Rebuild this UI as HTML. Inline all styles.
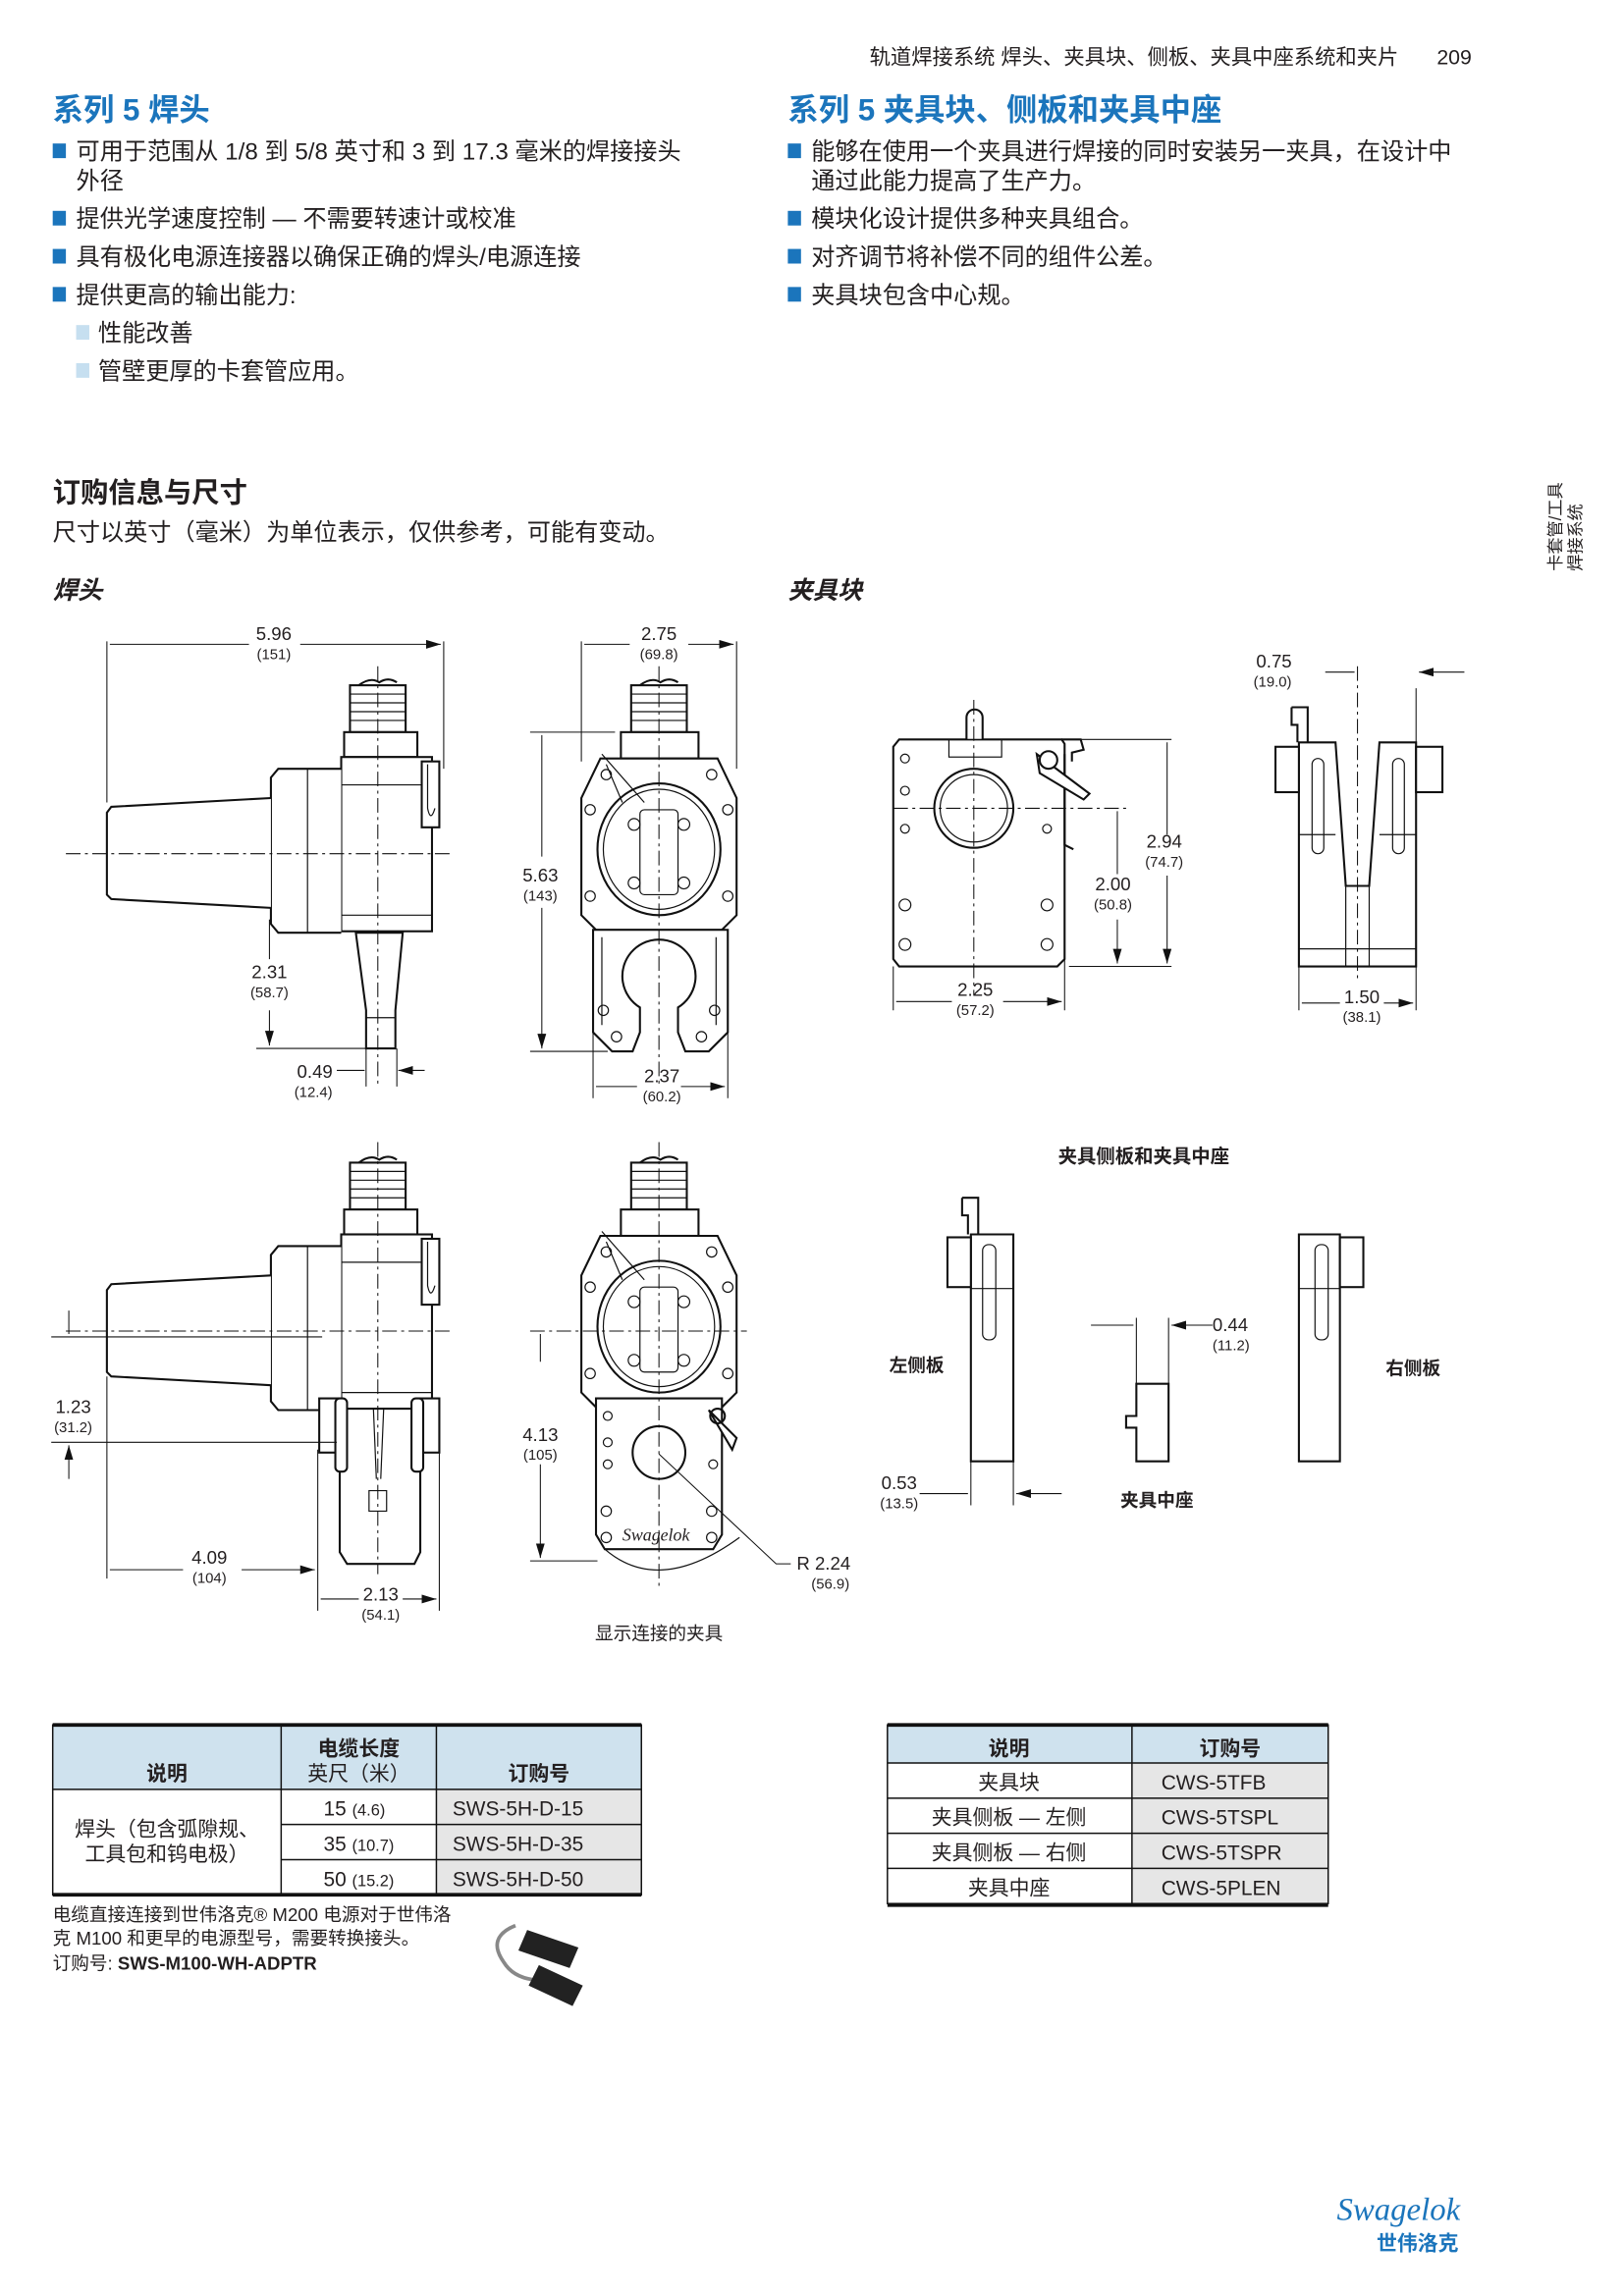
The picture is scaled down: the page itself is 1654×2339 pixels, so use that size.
<!DOCTYPE html>
<html><head><meta charset="utf-8">
<style>
html,body{margin:0;padding:0;background:#fff;}
svg{display:block;}
text{font-family:"Liberation Sans","Noto Sans CJK SC",sans-serif;fill:#231f20;}
.t{font-size:16.2px;}
.h{font-size:21px;font-weight:bold;fill:#1b75bc;}
.d{font-size:12.5px;}
.s{font-size:10px;}
.o{fill:none;stroke:#111;stroke-width:1.4;}
.f{fill:#fff;stroke:#111;stroke-width:1.4;}
.l{fill:none;stroke:#111;stroke-width:0.8;}
.c{fill:none;stroke:#111;stroke-width:0.7;stroke-dasharray:10 3 2 3;}
.dm{fill:none;stroke:#111;stroke-width:0.7;}
.ar{fill:none;stroke:#111;stroke-width:0.7;marker-end:url(#a);}
</style></head><body>
<svg width="1654" height="2339" viewBox="0 0 1109 1568" preserveAspectRatio="none" xmlns="http://www.w3.org/2000/svg">
<defs>
<marker id="a" markerWidth="10" markerHeight="6" refX="10" refY="3" orient="auto" markerUnits="userSpaceOnUse"><path d="M0,0 L10,3 L0,6 Z" fill="#111"/></marker>
<g id="hs">
 <rect x="239" y="468" width="38" height="32" class="f"/>
 <path d="M239,474H277M239,480H277M239,486H277M239,492H277" class="l"/>
 <path d="M245,468 q8,-6 14,-2 q6,-4 12,0" class="o"/>
 <rect x="235" y="500" width="50" height="17" class="f"/>
 <rect x="233" y="517" width="62" height="119" class="f"/>
 <path d="M233,536H295M233,625H295" class="l"/>
 <rect x="288" y="520" width="12" height="45" class="f"/>
 <path d="M292,522 v30 q2,10 5,0" class="l"/>
 <path d="M233,525 H190 L185,531 V631 L190,637 H233" class="f"/>
 <path d="M210,525V637" class="l"/>
 <path d="M185,545 L76,551 L73,555 V611 L76,614 L185,620" class="f"/>
 <path d="M45,583H310" class="c"/>
</g>
<g id="hf">
 <rect x="431" y="468" width="38" height="32" class="f"/>
 <path d="M431,474H469M431,480H469M431,486H469M431,492H469" class="l"/>
 <path d="M437,468 q8,-6 14,-2 q6,-4 12,0" class="o"/>
 <rect x="424" y="500" width="53" height="18" class="f"/>
 <path d="M410,518 H490 L503,545 V625 L493,635 H407 L397,625 V545 Z" class="f"/>
 <ellipse cx="450" cy="580" rx="42" ry="45" class="o"/>
 <ellipse cx="450" cy="580" rx="38" ry="41" class="l"/>
 <rect x="437" y="553" width="26" height="58" rx="3" class="l"/>
 <g class="l"><circle cx="433" cy="563" r="4"/><circle cx="467" cy="563" r="4"/><circle cx="433" cy="603" r="4"/><circle cx="467" cy="603" r="4"/>
 <circle cx="414" cy="529" r="3.5"/><circle cx="486" cy="529" r="3.5"/><circle cx="403" cy="553" r="3.5"/><circle cx="497" cy="553" r="3.5"/><circle cx="403" cy="612" r="3.5"/><circle cx="497" cy="612" r="3.5"/></g>
 <path d="M411,515 L440,548 M414,522 L425,548" class="l"/>
</g>
</defs>

<!-- header -->
<text x="955" y="44" text-anchor="end" style="font-size:14.3px">轨道焊接系统  焊头、夹具块、侧板、夹具中座系统和夹片</text>
<text x="1005" y="44" text-anchor="end" style="font-size:14.3px">209</text>
<text x="36" y="82" class="h">系列 5 焊头</text>
<text x="538" y="82" class="h">系列 5 夹具块、侧板和夹具中座</text>
<g fill="#1b75bc"><rect x="36" y="98" width="9" height="10"/><rect x="36" y="144" width="9" height="10"/><rect x="36" y="170" width="9" height="10"/><rect x="36" y="196" width="9" height="10"/>
<rect x="538" y="98" width="9" height="10"/><rect x="538" y="144" width="9" height="10"/><rect x="538" y="170" width="9" height="10"/><rect x="538" y="196" width="9" height="10"/></g>
<g fill="#c6dff0"><rect x="52" y="222" width="9" height="10"/><rect x="52" y="248" width="9" height="10"/></g>
<text x="52" y="109" class="t">可用于范围从 1/8 到 5/8 英寸和 3 到 17.3 毫米的焊接接头</text>
<text x="52" y="129" class="t">外径</text>
<text x="52" y="155" class="t">提供光学速度控制 — 不需要转速计或校准</text>
<text x="52" y="181" class="t">具有极化电源连接器以确保正确的焊头/电源连接</text>
<text x="52" y="207" class="t">提供更高的输出能力:</text>
<text x="67" y="233" class="t">性能改善</text>
<text x="67" y="259" class="t">管壁更厚的卡套管应用。</text>
<text x="554" y="109" class="t">能够在使用一个夹具进行焊接的同时安装另一夹具，在设计中</text>
<text x="554" y="129" class="t">通过此能力提高了生产力。</text>
<text x="554" y="155" class="t">模块化设计提供多种夹具组合。</text>
<text x="554" y="181" class="t">对齐调节将补偿不同的组件公差。</text>
<text x="554" y="207" class="t">夹具块包含中心规。</text>

<g transform="translate(1066,390) rotate(-90)"><text x="0" y="0" style="font-size:11.5px">卡套管/工具</text><text x="0" y="14" style="font-size:11.5px">焊接系统</text></g>

<text x="36" y="343" style="font-size:19px;font-weight:bold">订购信息与尺寸</text>
<text x="36" y="369" class="t">尺寸以英寸（毫米）为单位表示，仅供参考，可能有变动。</text>
<text x="36" y="409" style="font-size:17px;font-weight:bold;font-style:italic">焊头</text>
<text x="538" y="409" style="font-size:17px;font-weight:bold;font-style:italic">夹具块</text>

<!-- head 1 side -->
<use href="#hs"/>
<path d="M243,637 H275 L270,690 V716 H250 V690 Z" class="f"/>
<path d="M250,695H270" class="l"/>
<path d="M258,455V740" class="c"/>
<path d="M73,548V438M303,438V525" class="dm"/>
<path d="M170,440H75M205,440H301" class="ar"/>
<text x="187" y="437" text-anchor="middle" class="d">5.96</text><text x="187" y="450" text-anchor="middle" class="s">(151)</text>
<path d="M184,655V628M184,690V714" class="ar"/>
<path d="M175,716H250" class="dm"/>
<text x="184" y="668" text-anchor="middle" class="d">2.31</text><text x="184" y="681" text-anchor="middle" class="s">(58.7)</text>
<path d="M250,716V742M271,716V742" class="dm"/>
<path d="M230,731H249M290,731H272" class="ar"/>
<text x="215" y="736" text-anchor="middle" class="d">0.49</text><text x="214" y="749" text-anchor="middle" class="s">(12.4)</text>

<!-- head 1 front -->
<use href="#hf"/>
<path d="M405,635 H497 V705 L484,718 H468 L463,705 V688 A25,25 0 1,0 437,688 V705 L432,718 H418 L405,705 Z" class="f"/>
<path d="M411,640V700M489,640V700" class="l"/>
<g class="l"><circle cx="412" cy="690" r="3.5"/><circle cx="488" cy="690" r="3.5"/><circle cx="421" cy="708" r="3.5"/><circle cx="479" cy="708" r="3.5"/></g>
<path d="M450,455V740" class="c"/>
<path d="M397,520V438M503,438V525" class="dm"/>
<path d="M430,440H399M470,440H501" class="ar"/>
<text x="450" y="437" text-anchor="middle" class="d">2.75</text><text x="450" y="450" text-anchor="middle" class="s">(69.8)</text>
<path d="M362,500H420M362,718H415" class="dm"/>
<path d="M370,585V502M370,620V716" class="ar"/>
<text x="369" y="602" text-anchor="middle" class="d">5.63</text><text x="369" y="615" text-anchor="middle" class="s">(143)</text>
<path d="M405,705V750M497,705V750" class="dm"/>
<path d="M435,742H407M465,742H495" class="ar"/>
<text x="452" y="739" text-anchor="middle" class="d">2.37</text><text x="452" y="752" text-anchor="middle" class="s">(60.2)</text>

<!-- head 2 -->
<g transform="translate(0,326)"><use href="#hs"/><use href="#hf"/></g>
<path d="M232,962 H287 V1060 L283,1068 H237 L232,1060 Z" class="f"/>
<path d="M237,962 L255,962 L257,1010 M281,962 L262,962 L260,1010" class="l"/>
<path d="M252,1018H264V1032H252Z" class="l"/>
<rect x="218" y="955" width="14" height="37" class="f"/><rect x="287" y="955" width="13" height="37" class="f"/>
<rect x="229" y="955" width="8" height="50" rx="3" class="f"/><rect x="281" y="955" width="8" height="50" rx="3" class="f"/>
<path d="M258,780V1075" class="c"/>
<path d="M35,913H220M35,985H230" class="dm"/>
<path d="M47,895V911M47,1010V987" class="ar"/>
<text x="50" y="965" text-anchor="middle" class="d">1.23</text><text x="50" y="978" text-anchor="middle" class="s">(31.2)</text>
<path d="M73,940V1078M217,990V1100M300,990V1100" class="dm"/>
<path d="M125,1072H75M165,1072H215" class="ar"/>
<text x="143" y="1068" text-anchor="middle" class="d">4.09</text><text x="143" y="1081" text-anchor="middle" class="s">(104)</text>
<path d="M245,1092H219M275,1092H298" class="ar"/>
<text x="260" y="1093" text-anchor="middle" class="d">2.13</text><text x="260" y="1106" text-anchor="middle" class="s">(54.1)</text>

<path d="M407,955 H493 V1048 L487,1058 H413 L407,1048 Z" class="f"/>
<circle cx="450" cy="992" r="18" class="o"/>
<path d="M484,963 L500,990 L503,982 Z" class="f"/>
<circle cx="490" cy="967" r="5" class="o"/>
<g class="l"><circle cx="415" cy="967" r="3"/><circle cx="415" cy="985" r="3"/><circle cx="415" cy="1000" r="3"/><circle cx="487" cy="1000" r="3"/><circle cx="414" cy="1032" r="3.5"/><circle cx="486" cy="1032" r="3.5"/><circle cx="414" cy="1050" r="3.5"/><circle cx="486" cy="1050" r="3.5"/></g>
<text x="448" y="1052" text-anchor="middle" style="font-size:12px;font-style:italic;font-family:'Liberation Serif',serif">Swagelok</text>
<path d="M413,1058 Q450,1090 505,1050" class="l"/>
<path d="M450,780V1085" class="c"/>
<path d="M362,909H510" class="c"/>
<path d="M362,1066H408" class="dm"/>
<path d="M369,930V911M369,1000V1064" class="ar"/>
<text x="369" y="984" text-anchor="middle" class="d">4.13</text><text x="369" y="997" text-anchor="middle" class="s">(105)</text>
<path d="M450,993 L530,1068 H540" class="dm"/>
<text x="544" y="1072" class="d">R 2.24</text><text x="554" y="1085" class="s">(56.9)</text>
<text x="450" y="1120" text-anchor="middle" style="font-size:12.5px">显示连接的夹具</text>

<!-- fixture block front -->
<path d="M614,505 H725 L727,508 V655 L722,660 H614 L610,655 V510 Z" class="f"/>
<path d="M660,505 V490 A5,5 0 0 1 671,490 V505" class="f"/>
<rect x="648" y="505" width="36" height="12" class="l"/>
<circle cx="665" cy="552" r="27" class="o"/><circle cx="665" cy="552" r="23" class="l"/>
<path d="M725,505 H738 L740,512 L732,514 V520" class="o"/>
<path d="M727,515 V577 L733,580" class="o"/>
<path d="M708,515 L744,542 L740,546 L710,528 Z" class="f"/>
<circle cx="716" cy="519" r="6" class="f"/>
<g class="l"><circle cx="618" cy="518" r="3"/><circle cx="618" cy="540" r="3"/><circle cx="618" cy="566" r="3"/><circle cx="715" cy="566" r="3"/><circle cx="618" cy="618" r="4"/><circle cx="715" cy="618" r="4"/><circle cx="618" cy="645" r="4"/><circle cx="715" cy="645" r="4"/></g>
<path d="M610,552H770" class="c"/><path d="M665,478V680" class="c"/>
<path d="M610,660V690M727,640V690" class="dm"/>
<path d="M650,684H612M685,684H725" class="ar"/>
<text x="666" y="680" text-anchor="middle" class="d">2.25</text><text x="666" y="693" text-anchor="middle" class="s">(57.2)</text>
<path d="M735,505H800M730,660H800" class="dm"/>
<path d="M797,570V507M797,598V658" class="ar"/>
<text x="795" y="579" text-anchor="middle" class="d">2.94</text><text x="795" y="592" text-anchor="middle" class="s">(74.7)</text>
<path d="M763,597V554M763,628V658" class="ar"/>
<text x="760" y="608" text-anchor="middle" class="d">2.00</text><text x="760" y="621" text-anchor="middle" class="s">(50.8)</text>

<!-- fixture block side -->
<path d="M887,507 H912 L919,605 H935 L942,507 H967 V660 H887 Z" class="f"/>
<path d="M887,648H967M919,605V660M935,605V660M887,570H912M942,570H967" class="l"/>
<path d="M882,483 H893 V507 M882,483 V495 H886 V507" class="o"/>
<rect x="871" y="510" width="16" height="31" class="f"/><rect x="967" y="510" width="18" height="31" class="f"/>
<rect x="896" y="518" width="8" height="65" rx="4" class="l"/><rect x="951" y="518" width="8" height="65" rx="4" class="l"/>
<path d="M927,455V668" class="c"/>
<path d="M967,470V520M887,660V690M967,660V690" class="dm"/>
<path d="M905,459H925M1000,459H969" class="ar"/>
<text x="870" y="456" text-anchor="middle" class="d">0.75</text><text x="869" y="469" text-anchor="middle" class="s">(19.0)</text>
<path d="M915,685H889M945,685H965" class="ar"/>
<text x="930" y="685" text-anchor="middle" class="d">1.50</text><text x="930" y="698" text-anchor="middle" class="s">(38.1)</text>

<!-- side plates -->
<text x="781" y="794" text-anchor="middle" style="font-size:13px;font-weight:bold">夹具侧板和夹具中座</text>
<path d="M663,843 H692 V998 H663 Z" class="f"/>
<path d="M657,818 H668 V843 M657,818 V830 H661 V843" class="o"/>
<rect x="647" y="845" width="16" height="34" class="f"/>
<rect x="671" y="850" width="9" height="65" rx="4" class="l"/><path d="M663,880H692" class="l"/>
<path d="M887,843 H915 V998 H887 Z" class="f"/>
<rect x="915" y="845" width="16" height="34" class="f"/>
<rect x="898" y="850" width="9" height="65" rx="4" class="l"/><path d="M887,880H915" class="l"/>
<path d="M776,945 H798 V998 H776 V975 H769 V967 H776 Z" class="f"/>
<text x="626" y="937" text-anchor="middle" style="font-size:12.5px;font-weight:bold">左侧板</text>
<text x="965" y="939" text-anchor="middle" style="font-size:12.5px;font-weight:bold">右侧板</text>
<text x="790" y="1029" text-anchor="middle" style="font-size:12.5px;font-weight:bold">夹具中座</text>
<path d="M776,900V945M798,900V945" class="dm"/>
<path d="M745,905H774M828,905H800" class="ar"/>
<text x="828" y="909" class="d">0.44</text><text x="828" y="922" class="s">(11.2)</text>
<path d="M663,998V1028M692,998V1028" class="dm"/>
<path d="M628,1020H661M725,1020H694" class="ar"/>
<text x="614" y="1017" text-anchor="middle" class="d">0.53</text><text x="614" y="1030" text-anchor="middle" class="s">(13.5)</text>

<!-- left table -->
<rect x="36" y="1178" width="402" height="44" fill="#cfe2ee"/>
<rect x="298" y="1222" width="140" height="72" fill="#e6e6e6"/>
<g stroke="#111" stroke-width="1" fill="none">
<rect x="36" y="1178" width="402" height="116"/>
<path d="M36,1222H438M192,1246H438M192,1270H438M192,1178V1294M298,1178V1294"/>
</g>
<path d="M36,1178H438M36,1294H438" stroke="#111" stroke-width="2.5"/>
<g style="font-size:14px">
<text x="114" y="1216" text-anchor="middle" font-weight="bold">说明</text>
<text x="245" y="1199" text-anchor="middle" font-weight="bold">电缆长度</text>
<text x="245" y="1216" text-anchor="middle">英尺（米）</text>
<text x="368" y="1216" text-anchor="middle" font-weight="bold">订购号</text>
<text x="114" y="1254" text-anchor="middle">焊头（包含弧隙规、</text>
<text x="114" y="1271" text-anchor="middle">工具包和钨电极）</text>
<text x="242" y="1240" text-anchor="middle">15 <tspan style="font-size:11px">(4.6)</tspan></text>
<text x="245" y="1264" text-anchor="middle">35 <tspan style="font-size:11px">(10.7)</tspan></text>
<text x="245" y="1288" text-anchor="middle">50 <tspan style="font-size:11px">(15.2)</tspan></text>
<text x="309" y="1240">SWS-5H-D-15</text><text x="309" y="1264">SWS-5H-D-35</text><text x="309" y="1288">SWS-5H-D-50</text>
</g>
<text x="36" y="1312" style="font-size:12.5px">电缆直接连接到世伟洛克® M200 电源对于世伟洛</text>
<text x="36" y="1328" style="font-size:12.5px">克 M100 和更早的电源型号，需要转换接头。</text>
<text x="36" y="1345" style="font-size:12.5px">订购号: <tspan font-weight="bold">SWS-M100-WH-ADPTR</tspan></text>
<path d="M352,1315 q-20,8 -8,25 q6,10 20,12" fill="none" stroke="#888" stroke-width="2.5"/>
<path d="M360,1318 l35,12 -6,14 -35,-12 Z" fill="#222"/>
<path d="M368,1342 l30,14 -7,14 -30,-14 Z" fill="#222"/>

<!-- right table -->
<rect x="606" y="1178" width="301" height="26" fill="#cfe2ee"/>
<rect x="773" y="1204" width="134" height="96" fill="#e6e6e6"/>
<g stroke="#111" stroke-width="1" fill="none">
<rect x="606" y="1178" width="301" height="122"/>
<path d="M606,1204H907M606,1228H907M606,1252H907M606,1276H907M773,1178V1300"/>
</g>
<path d="M606,1178H907M606,1301H907" stroke="#111" stroke-width="2.5"/>
<g style="font-size:14px">
<text x="689" y="1199" text-anchor="middle" font-weight="bold">说明</text>
<text x="840" y="1199" text-anchor="middle" font-weight="bold">订购号</text>
<text x="689" y="1222" text-anchor="middle">夹具块</text>
<text x="689" y="1246" text-anchor="middle">夹具侧板 — 左侧</text>
<text x="689" y="1270" text-anchor="middle">夹具侧板 — 右侧</text>
<text x="689" y="1294" text-anchor="middle">夹具中座</text>
<text x="793" y="1222">CWS-5TFB</text><text x="793" y="1246">CWS-5TSPL</text><text x="793" y="1270">CWS-5TSPR</text><text x="793" y="1294">CWS-5PLEN</text>
</g>

<!-- logo -->
<text x="955" y="1516" text-anchor="middle" style="font-size:22px;font-style:italic;fill:#1b75bc;font-family:'Liberation Serif',serif">Swagelok</text>
<text x="968" y="1537" text-anchor="middle" style="font-size:14px;font-weight:bold;fill:#1b75bc">世伟洛克</text>
</svg>
</body></html>
